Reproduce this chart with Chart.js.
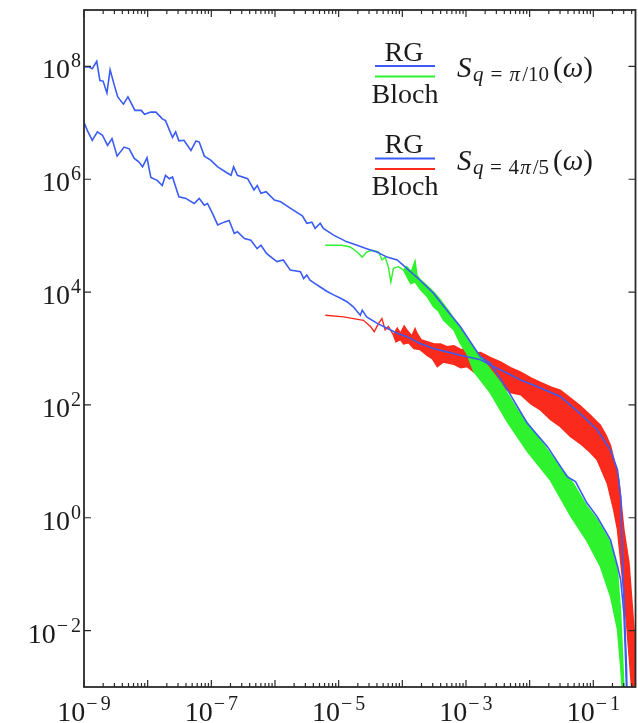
<!DOCTYPE html>
<html>
<head>
<meta charset="utf-8">
<script src="https://cdn.jsdelivr.net/npm/chart.js@4/dist/chart.umd.min.js"></script>
<style>
    html, body { margin: 0; padding: 0; background: #fff; }
    canvas { display: block; }
</style>
</head>
<body>
<canvas id="spectrum" width="638" height="723"></canvas>
<script>
// Dynamic structure factor S_q(ω), RG vs Bloch, log-log.
// Every point is [log10 ω, log10 S].

const rgSmallQ = [
    [-9.00, 7.99], [-8.92, 7.99], [-8.87, 7.96], [-8.80, 8.09], [-8.75, 7.75], [-8.70, 7.74],
    [-8.64, 7.53], [-8.59, 7.94], [-8.53, 7.69], [-8.47, 7.46], [-8.38, 7.33], [-8.31, 7.46],
    [-8.20, 7.22], [-8.10, 7.22], [-8.05, 7.15], [-7.95, 7.19], [-7.87, 7.19], [-7.77, 7.07],
    [-7.72, 7.04], [-7.61, 6.74], [-7.56, 6.84], [-7.51, 6.68], [-7.43, 6.69], [-7.32, 6.51],
    [-7.24, 6.68], [-7.19, 6.66], [-7.11, 6.41], [-7.01, 6.34], [-6.90, 6.22], [-6.75, 6.11],
    [-6.69, 6.07], [-6.65, 6.22], [-6.59, 6.07], [-6.43, 6.01], [-6.33, 5.81], [-6.28, 5.89],
    [-6.22, 5.75], [-6.14, 5.78], [-6.01, 5.63], [-5.91, 5.60], [-5.75, 5.48], [-5.57, 5.35],
    [-5.50, 5.22], [-5.42, 5.24], [-5.37, 5.13], [-5.29, 5.22], [-5.24, 5.13], [-5.08, 5.01],
    [-4.87, 4.89], [-4.71, 4.83], [-4.56, 4.77], [-4.40, 4.71], [-4.24, 4.62], [-4.08, 4.57],
    [-3.93, 4.42], [-3.72, 4.21], [-3.51, 3.98], [-3.30, 3.68], [-3.09, 3.39], [-2.88, 3.03],
    [-2.77, 2.85], [-2.62, 2.74], [-2.35, 2.27], [-2.04, 1.68], [-1.72, 1.26], [-1.41, 0.73],
    [-1.28, 0.64], [-1.10, 0.26], [-0.94, 0.02], [-0.73, -0.39], [-0.62, -0.86], [-0.57, -1.10],
    [-0.52, -1.69], [-0.50, -2.28], [-0.48, -2.99], [-0.47, -3.6],
];

const rgLargeQ = [
    [-9.00, 7.01], [-8.95, 6.87], [-8.87, 6.69], [-8.79, 6.84], [-8.71, 6.78], [-8.63, 6.60],
    [-8.56, 6.72], [-8.48, 6.41], [-8.37, 6.57], [-8.29, 6.54], [-8.21, 6.37], [-8.14, 6.31],
    [-8.08, 6.22], [-8.01, 6.38], [-7.95, 6.03], [-7.85, 5.98], [-7.77, 5.89], [-7.72, 6.07],
    [-7.66, 6.01], [-7.61, 6.04], [-7.51, 5.69], [-7.40, 5.66], [-7.27, 5.57], [-7.19, 5.66],
    [-7.11, 5.54], [-7.06, 5.57], [-6.98, 5.39], [-6.90, 5.19], [-6.80, 5.24], [-6.72, 5.27],
    [-6.64, 5.04], [-6.59, 5.07], [-6.48, 4.95], [-6.38, 4.92], [-6.28, 4.77], [-6.22, 4.83],
    [-6.13, 4.68], [-5.97, 4.54], [-5.87, 4.57], [-5.76, 4.39], [-5.60, 4.36], [-5.55, 4.24],
    [-5.50, 4.30], [-5.45, 4.21], [-5.37, 4.15], [-5.29, 4.09], [-5.18, 4.01], [-5.08, 3.95],
    [-4.97, 3.89], [-4.87, 3.83], [-4.77, 3.74], [-4.66, 3.59], [-4.63, 3.68], [-4.56, 3.56],
    [-4.40, 3.45], [-4.24, 3.36], [-4.08, 3.27], [-3.93, 3.21], [-3.72, 3.09], [-3.51, 3.00],
    [-3.30, 2.94], [-3.09, 2.88], [-2.77, 2.80], [-2.62, 2.71], [-2.35, 2.56], [-2.14, 2.44],
    [-1.83, 2.30], [-1.52, 2.15], [-1.21, 1.85], [-0.94, 1.56], [-0.73, 1.20], [-0.62, 0.85],
    [-0.57, 0.38], [-0.56, 0.08], [-0.54, -0.80], [-0.51, -1.69], [-0.48, -2.6], [-0.46, -3.6],
];

// Bloch q = π/10: clean stretch, then the noisy band (upper and lower envelope)
const blochSmallQLine = [
    [-5.21, 4.83], [-4.95, 4.83], [-4.82, 4.80], [-4.71, 4.71], [-4.63, 4.62], [-4.56, 4.71],
    [-4.48, 4.74], [-4.37, 4.71], [-4.32, 4.57], [-4.27, 4.62], [-4.22, 4.45], [-4.18, 4.18],
    [-4.14, 4.42], [-4.06, 4.45], [-3.98, 4.39],
];
const blochSmallQUpper = [
    [-3.98, 4.39], [-3.93, 4.45], [-3.86, 4.36], [-3.80, 4.55], [-3.77, 4.30], [-3.72, 4.22],
    [-3.62, 4.12], [-3.51, 4.00], [-3.43, 3.90], [-3.35, 3.78], [-3.27, 3.66], [-3.19, 3.53],
    [-3.09, 3.38], [-2.98, 3.18], [-2.85, 2.96], [-2.72, 2.78], [-2.46, 2.40], [-2.20, 1.93],
    [-1.88, 1.45], [-1.57, 0.97], [-1.31, 0.60], [-1.10, 0.20], [-0.94, -0.03], [-0.73, -0.45],
    [-0.62, -0.95], [-0.57, -1.69], [-0.52, -2.99], [-0.51, -3.6],
];
const blochSmallQLower = [
    [-3.98, 4.39], [-3.87, 4.15], [-3.80, 4.18], [-3.72, 4.05], [-3.61, 3.92], [-3.51, 3.74],
    [-3.43, 3.66], [-3.35, 3.50], [-3.19, 3.33], [-3.09, 3.09], [-2.98, 2.90], [-2.88, 2.60],
    [-2.62, 2.22], [-2.35, 1.70], [-2.04, 1.18], [-1.67, 0.66], [-1.35, 0.02], [-1.10, -0.41],
    [-0.89, -0.86], [-0.73, -1.39], [-0.62, -1.98], [-0.57, -2.63], [-0.55, -2.99], [-0.54, -3.6],
];

// Bloch q = 4π/5
const blochLargeQLine = [
    [-5.21, 3.59], [-4.92, 3.56], [-4.77, 3.53], [-4.61, 3.50], [-4.50, 3.39], [-4.44, 3.30],
    [-4.37, 3.45], [-4.32, 3.53], [-4.27, 3.33], [-4.22, 3.39], [-4.14, 3.24],
];
const blochLargeQUpper = [
    [-4.14, 3.24], [-4.08, 3.36], [-4.03, 3.27], [-3.97, 3.40], [-3.93, 3.33], [-3.85, 3.22],
    [-3.80, 3.35], [-3.77, 3.27], [-3.70, 3.15], [-3.61, 3.12], [-3.50, 3.08], [-3.40, 3.08],
    [-3.30, 3.03], [-3.19, 3.05], [-3.08, 2.98], [-2.98, 3.00], [-2.87, 2.92], [-2.77, 2.93],
    [-2.62, 2.84], [-2.46, 2.76], [-2.30, 2.66], [-2.14, 2.58], [-1.98, 2.48], [-1.83, 2.40],
    [-1.67, 2.32], [-1.52, 2.26], [-1.36, 2.12], [-1.21, 1.99], [-1.05, 1.82], [-0.89, 1.64],
    [-0.80, 1.46], [-0.73, 1.28], [-0.60, 0.67], [-0.52, -0.21], [-0.44, -0.80], [-0.36, -1.98],
    [-0.31, -2.99], [-0.29, -3.6],
];
const blochLargeQLower = [
    [-4.14, 3.24], [-4.10, 3.12], [-4.03, 3.16], [-3.98, 3.08], [-3.90, 3.10], [-3.82, 3.00],
    [-3.72, 2.98], [-3.61, 2.88], [-3.53, 2.82], [-3.45, 2.68], [-3.36, 2.76], [-3.19, 2.72],
    [-3.08, 2.66], [-2.98, 2.68], [-2.87, 2.58], [-2.77, 2.56], [-2.62, 2.44], [-2.46, 2.35],
    [-2.30, 2.22], [-2.14, 2.18], [-1.98, 2.02], [-1.83, 1.91], [-1.67, 1.74], [-1.52, 1.62],
    [-1.36, 1.44], [-1.21, 1.32], [-1.05, 1.16], [-0.94, 1.03], [-0.78, 0.61], [-0.68, 0.14],
    [-0.62, -0.21], [-0.54, -1.10], [-0.47, -1.98], [-0.40, -2.99], [-0.38, -3.6],
];

const xLabelExps = [-9, -7, -5, -3, -1];
const yLabelExps = [-2, 0, 2, 4, 6, 8];

const BLUE = '#3a5cf5';
const GREEN = '#2ef22e';
const RED = '#fa2a1c';
const INK = '#1b1b1b';
const SERIF = '"Liberation Serif", "DejaVu Serif", serif';

const pts = (arr) => arr.map(([lx, ly]) => ({ x: 10 ** lx, y: 10 ** ly }));
const band = (upper, lower) => pts(upper.concat(lower.slice().reverse()));

function powerLabel(ctx, exp, x, y, align) {
    const sup = exp < 0 ? '\u2212' + -exp : String(exp);
    ctx.font = `28px ${SERIF}`;
    const wb = ctx.measureText('10').width;
    ctx.font = `20px ${SERIF}`;
    const ws = ctx.measureText(sup).width + (exp < 0 ? 3 : 0);
    const total = wb + 1 + ws;
    const x0 = align === 'right' ? x - total : x - total / 2;
    ctx.textAlign = 'left';
    ctx.font = `28px ${SERIF}`;
    ctx.fillText('10', x0, y);
    ctx.font = `20px ${SERIF}`;
    if (exp < 0) {
        ctx.fillText('\u2212', x0 + wb + 1, y - 11);
        ctx.fillText(String(-exp), x0 + wb + 4 + ctx.measureText('\u2212').width, y - 11);
    } else {
        ctx.fillText(sup, x0 + wb + 1, y - 11);
    }
}

// runs of [text, font, gapWeight]; optional width spreads the spare room over the gaps
function drawRuns(ctx, runs, x, y, width) {
    ctx.textAlign = 'left';
    let natural = 0;
    let weights = 0;
    for (const [t, font, g] of runs) {
        ctx.font = font;
        natural += ctx.measureText(t).width;
        weights += g || 0;
    }
    const spare = width && weights ? Math.max(0, width - natural) / weights : 0;
    for (const [t, font, g] of runs) {
        ctx.font = font;
        ctx.fillText(t, x, y);
        x += ctx.measureText(t).width + (g || 0) * spare;
    }
}

function legendEntry(ctx, base, lowerColor, qRuns) {
    ctx.fillStyle = INK;
    ctx.textAlign = 'center';
    ctx.font = `28px ${SERIF}`;
    ctx.fillText('RG', 404, base);
    ctx.fillText('Bloch', 405, base + 42);
    ctx.lineWidth = 2;
    ctx.strokeStyle = BLUE;
    ctx.beginPath();
    ctx.moveTo(375, base + 5.5);
    ctx.lineTo(435, base + 5.5);
    ctx.stroke();
    ctx.strokeStyle = lowerColor;
    ctx.beginPath();
    ctx.moveTo(375, base + 16);
    ctx.lineTo(435, base + 16);
    ctx.stroke();

    const sy = base + 16.5;
    drawRuns(ctx, [['S', `italic 29px ${SERIF}`]], 457, sy);
    drawRuns(ctx, qRuns, 473, sy + 4, 76);
    drawRuns(ctx, [
        ['(', `29px ${SERIF}`],
        ['\u03c9', `italic 29px ${SERIF}`],
        [')', `29px ${SERIF}`],
    ], 553, sy);
}

const framePlugin = {
    id: 'frame',
    afterDatasetsDraw(chart) {
        const { ctx, chartArea: a, scales: { x, y } } = chart;
        ctx.save();
        ctx.strokeStyle = '#2a2a2a';
        ctx.lineWidth = 1.2;
        ctx.beginPath();
        for (let e = -9; e <= 0; e++) {
            for (let k = 1; k <= 9; k++) {
                const px = x.getPixelForValue(k * 10 ** e);
                if (px < a.left - 0.5 || px > a.right + 0.5) continue;
                const len = k === 1 ? 7 : 4;
                ctx.moveTo(px, a.bottom);
                ctx.lineTo(px, a.bottom - len);
                ctx.moveTo(px, a.top);
                ctx.lineTo(px, a.top + len);
            }
        }
        for (const e of yLabelExps) {
            const py = y.getPixelForValue(10 ** e);
            ctx.moveTo(a.left, py);
            ctx.lineTo(a.left + 7, py);
            ctx.moveTo(a.right, py);
            ctx.lineTo(a.right - 7, py);
        }
        ctx.stroke();
        ctx.lineWidth = 1.8;
        ctx.strokeRect(a.left, a.top, a.right - a.left, a.bottom - a.top);

        ctx.fillStyle = INK;
        ctx.textBaseline = 'alphabetic';
        for (const e of xLabelExps) {
            powerLabel(ctx, e, x.getPixelForValue(10 ** e), a.bottom + 34, 'center');
        }
        for (const e of yLabelExps) {
            powerLabel(ctx, e, a.left - 3, y.getPixelForValue(10 ** e) + 12, 'right');
        }

        const sub = `italic 21px ${SERIF}`;
        const subUp = `21px ${SERIF}`;
        legendEntry(ctx, 60.5, GREEN, [
            ['q', sub, 1], ['=', subUp, 1], ['\u03c0', sub, 0.3], ['/10', subUp],
        ]);
        legendEntry(ctx, 153, RED, [
            ['q', sub, 1], ['=', subUp, 1], ['4', subUp, 0.2], ['\u03c0', sub, 0.3], ['/5', subUp],
        ]);
        ctx.restore();
    },
};

const line = (data, color, width) => ({
    data: pts(data),
    showLine: true,
    borderColor: color,
    borderWidth: width,
    pointRadius: 0,
    fill: false,
    tension: 0,
});

const area = (upper, lower, color) => ({
    data: band(upper, lower),
    showLine: true,
    borderColor: color,
    backgroundColor: color,
    borderWidth: 1.5,
    pointRadius: 0,
    fill: 'shape',
    tension: 0,
});

new Chart(document.getElementById('spectrum'), {
    type: 'scatter',
    data: {
        datasets: [
            // first dataset is painted last: RG curves on top
            line(rgSmallQ, BLUE, 1.6),
            line(rgLargeQ, BLUE, 1.6),
            line(blochSmallQLine, GREEN, 1.4),
            area(blochSmallQUpper, blochSmallQLower, GREEN),
            line(blochLargeQLine, RED, 1.4),
            area(blochLargeQUpper, blochLargeQLower, RED),
        ],
    },
    options: {
        responsive: false,
        animation: false,
        devicePixelRatio: 1,
        layout: { padding: { left: 84, right: 2.5, top: 10, bottom: 36 } },
        plugins: { legend: { display: false }, tooltip: { enabled: false } },
        scales: {
            x: { type: 'logarithmic', min: 1e-9, max: 0.46, display: false },
            y: { type: 'logarithmic', min: 1e-3, max: 1e9, display: false },
        },
    },
    plugins: [framePlugin],
});
</script>
</body>
</html>
